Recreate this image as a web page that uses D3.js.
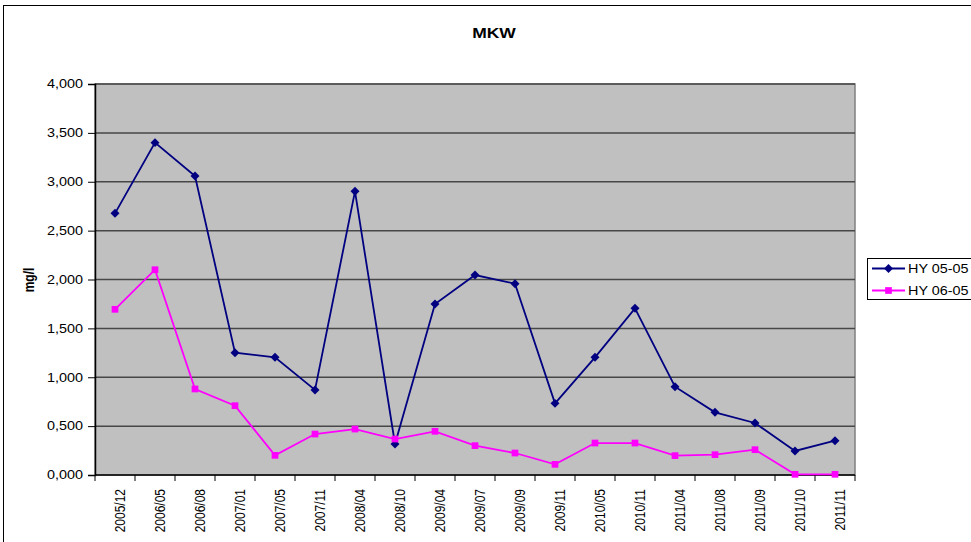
<!DOCTYPE html>
<html>
<head>
<meta charset="utf-8">
<script src="https://cdn.jsdelivr.net/npm/d3@7"></script>
<style>
  body { margin: 0; background: #fff; }
  svg { font-family: "Liberation Sans", Arial, sans-serif; display: block; }
</style>
</head>
<body>
<svg id="chart" width="971" height="542"></svg>
<script>
const categories = ['2005/12', '2006/05', '2006/08', '2007/01', '2007/05', '2007/11', '2008/04',
  '2008/10', '2009/04', '2009/07', '2009/09', '2009/11', '2010/05', '2010/11', '2011/04',
  '2011/08', '2011/09', '2011/10', '2011/11'];
const hy0505 = [2.677, 3.400, 3.059, 1.251, 1.204, 0.870, 2.902, 0.317, 1.749, 2.046, 1.957,
  0.733, 1.204, 1.705, 0.903, 0.641, 0.532, 0.246, 0.351];
const hy0605 = [1.695, 2.100, 0.880, 0.709, 0.201, 0.419, 0.470, 0.368, 0.447, 0.300, 0.225,
  0.109, 0.327, 0.327, 0.198, 0.208, 0.259, 0.007, 0.007];
const yTicks = [0, 0.5, 1, 1.5, 2, 2.5, 3, 3.5, 4];
const seriesNames = ['HY 05-05', 'HY 06-05'];

const svg = d3.select('#chart');
const margin = { top: 84, left: 95, right: 855, bottom: 475 };
const stretch = 'scale(1.2,1)'; // the source picture is widened horizontally

// outer frame
svg.append('rect')
  .attr('x', 3.5).attr('y', 5.5)
  .attr('width', 1000).attr('height', 600)
  .attr('fill', '#fff').attr('stroke', '#000').attr('stroke-width', 1);

const x = d3.scaleBand().domain(categories).range([margin.left, margin.right]);
const y = d3.scaleLinear().domain([0, 4]).range([margin.bottom, margin.top]);

// plot area
svg.append('rect')
  .attr('x', margin.left).attr('y', margin.top)
  .attr('width', margin.right - margin.left).attr('height', margin.bottom - margin.top)
  .attr('fill', '#c0c0c0').attr('stroke', '#808080').attr('stroke-width', 1.5);

// gridlines
svg.append('g')
  .selectAll('line')
  .data(yTicks.slice(1))
  .enter()
  .append('line')
  .attr('x1', margin.left).attr('x2', margin.right)
  .attr('y1', d => y(d)).attr('y2', d => y(d))
  .attr('stroke', '#474747').attr('stroke-width', 1.5);

const fmt = d => d3.format('.3f')(d).replace('.', ',');

// y axis
const yAxis = svg.append('g')
  .attr('transform', `translate(${margin.left},0)`)
  .call(d3.axisLeft(y).tickValues(yTicks).tickFormat(fmt).tickSize(7));
yAxis.select('.domain').attr('stroke', '#000').attr('stroke-width', 1.5);
yAxis.selectAll('.tick line').attr('stroke', '#000');
yAxis.selectAll('text')
  .attr('x', 0)
  .attr('transform', `translate(-12,0) ${stretch}`)
  .attr('font-size', 12).attr('fill', '#000')
  .attr('font-family', '"Liberation Sans", Arial, sans-serif');

// x axis: ticks at band boundaries
const xAxis = svg.append('g')
  .attr('transform', `translate(0,${margin.bottom})`);
xAxis.append('line')
  .attr('x1', margin.left).attr('x2', margin.right)
  .attr('stroke', '#000').attr('stroke-width', 1.5);
xAxis.selectAll('.xt')
  .data(d3.range(categories.length + 1))
  .enter()
  .append('line')
  .attr('class', 'xt')
  .attr('x1', i => margin.left + i * x.bandwidth())
  .attr('x2', i => margin.left + i * x.bandwidth())
  .attr('y1', 0).attr('y2', 6)
  .attr('stroke', '#000');
xAxis.selectAll('.xl')
  .data(categories)
  .enter()
  .append('text')
  .attr('class', 'xl')
  .attr('transform', d => `translate(${x(d) + x.bandwidth() / 2 + 10},14) ${stretch} rotate(-90)`)
  .attr('text-anchor', 'end')
  .attr('font-size', 12)
  .text(d => d);

// title and axis label
svg.append('text')
  .attr('transform', `translate(494,38) scale(1.25,1)`)
  .attr('text-anchor', 'middle')
  .attr('font-size', 14).attr('font-weight', 'bold')
  .text('MKW');
svg.append('text')
  .attr('transform', `translate(34,280) ${stretch} rotate(-90)`)
  .attr('text-anchor', 'middle')
  .attr('font-size', 12).attr('font-weight', 'bold')
  .text('mg/l');

const cx = i => x(categories[i]) + x.bandwidth() / 2;
const line = d3.line().x((d, i) => cx(i)).y(d => y(d));

const series = [
  { name: seriesNames[0], values: hy0505, color: '#000080', rotate: 45, size: 40 },
  { name: seriesNames[1], values: hy0605, color: '#ff00ff', rotate: 0, size: 45 }
];

series.forEach(s => {
  svg.append('path')
    .attr('d', line(s.values))
    .attr('fill', 'none')
    .attr('stroke', s.color)
    .attr('stroke-width', 1.8);
  svg.append('g')
    .selectAll('path')
    .data(s.values)
    .enter()
    .append('path')
    .attr('transform', (d, i) => `translate(${cx(i)},${y(d)}) rotate(${s.rotate})`)
    .attr('d', d3.symbol().type(d3.symbolSquare).size(s.size))
    .attr('fill', s.color);
});

// legend
const legend = svg.append('g');
legend.append('rect')
  .attr('x', 867.5).attr('y', 258.5)
  .attr('width', 120).attr('height', 41)
  .attr('fill', '#fff').attr('stroke', '#000');
series.forEach((s, i) => {
  const ly = 268.5 + i * 22;
  legend.append('line')
    .attr('x1', 872).attr('x2', 905)
    .attr('y1', ly).attr('y2', ly)
    .attr('stroke', s.color).attr('stroke-width', 1.8);
  legend.append('path')
    .attr('transform', `translate(888.5,${ly}) rotate(${s.rotate})`)
    .attr('d', d3.symbol().type(d3.symbolSquare).size(s.size))
    .attr('fill', s.color);
  legend.append('text')
    .attr('transform', `translate(908,${ly + 4.5}) ${stretch}`)
    .attr('font-size', 12)
    .text(s.name);
});
</script>
</body>
</html>
